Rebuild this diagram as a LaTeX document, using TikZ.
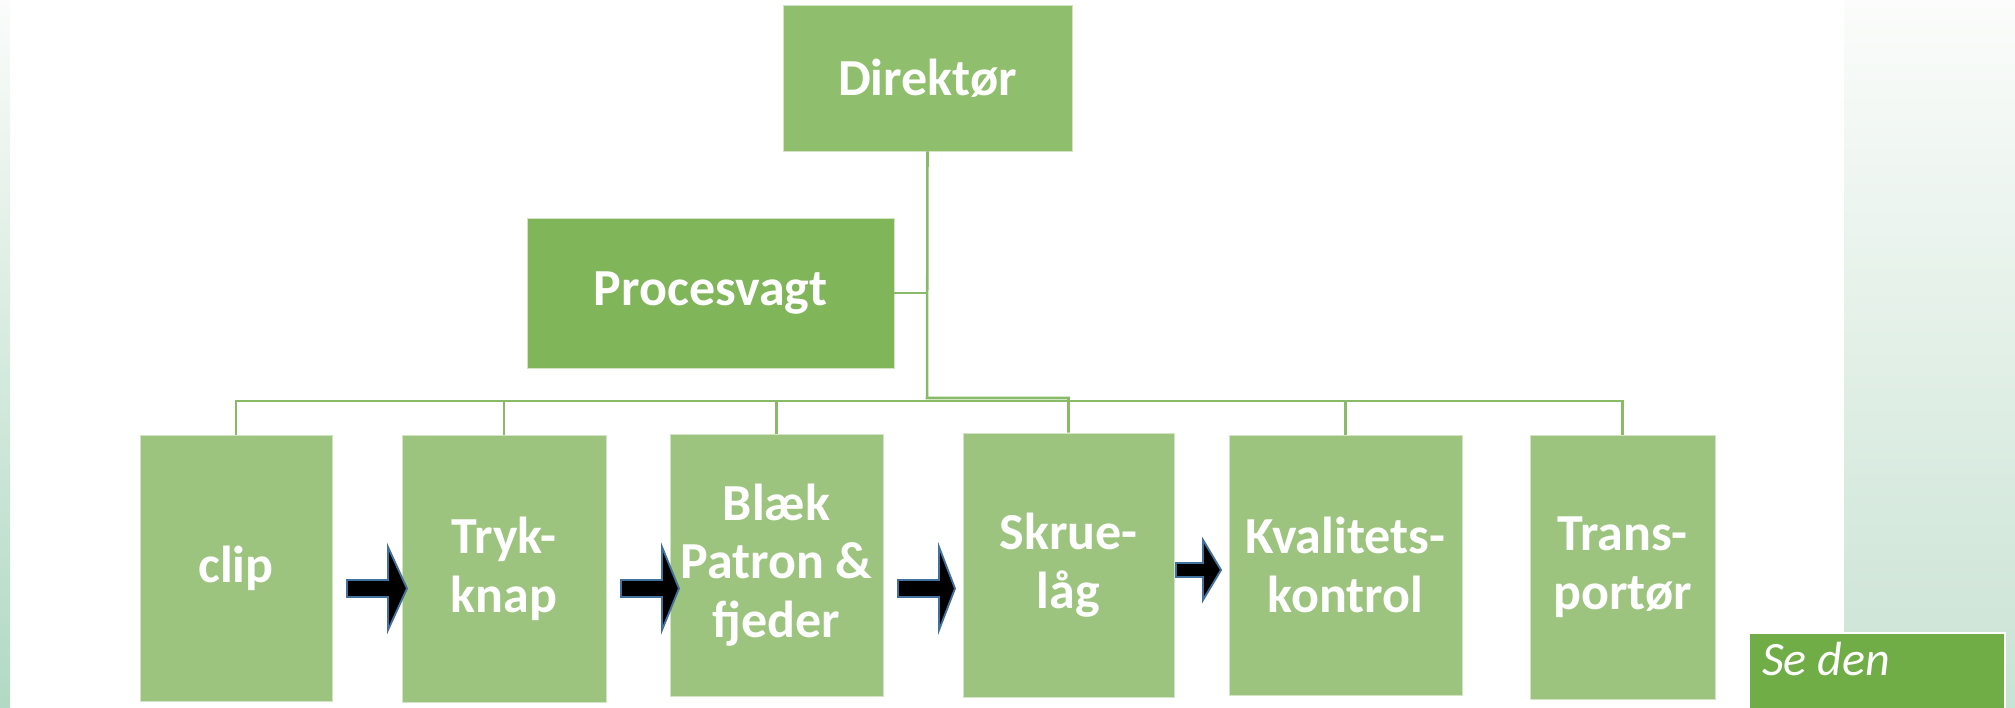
\documentclass[tikz,border=0pt]{standalone}
\usepackage{fontspec}
\setmainfont{Carlito}
\definecolor{dircol}{HTML}{8FBE6C}
\definecolor{proccol}{HTML}{80B55A}
\definecolor{childcol}{HTML}{9DC47F}
\definecolor{conncol}{HTML}{88BA67}
\definecolor{arrowblue}{HTML}{41719C}
\definecolor{notecol}{HTML}{70AD47}
\definecolor{panelbot}{HTML}{C9E3D3}
\definecolor{paneltop}{HTML}{FBFCFB}
\definecolor{stripbot}{HTML}{B2D9C3}
\begin{document}
\begin{tikzpicture}[x=0.75pt,y=-0.75pt,
  conn/.style={draw=conncol, line width=1.9pt},
  orgbox/.style={rectangle, draw=white!55!childcol, line width=0.6pt, text=white,
    font=\bfseries\fontsize{39}{44}\selectfont, align=center, inner sep=0pt},
  blockarrow/.style={fill=black, draw=arrowblue, line width=1.4pt, line join=miter},
  notebox/.style={rectangle, fill=notecol, draw=white, line width=1.5pt, inner sep=0pt},
  notetext/.style={text=white, font=\itshape\fontsize{36}{44}\selectfont, inner sep=0pt}]
\useasboundingbox (0,0) rectangle (2015,707);
\fill[white] (0,0) rectangle (2015,707);
% background gradients
\shade[top color=paneltop, bottom color=stripbot] (0,0) rectangle (10,707);
\shade[top color=paneltop, bottom color=panelbot] (1844,0) rectangle (2015,707);

% boxes
\node[orgbox, fill=dircol, minimum width=216.75pt, minimum height=109.5pt] (dir) at (927.5,78) {Direktør};
\node[orgbox, fill=proccol, minimum width=275.25pt, minimum height=112.5pt] (proc) at (710.5,293) {Procesvagt};
\node[orgbox, fill=childcol, minimum width=144pt, minimum height=199.5pt] (clip) at (236,568) {clip};
\node[orgbox, fill=childcol, minimum width=153pt, minimum height=200.25pt] (tryk) at (504,568.5) {Tryk-\\knap};
\node[orgbox, fill=childcol, minimum width=159.75pt, minimum height=196.5pt] (blaek) at (776.5,565) {Blæk\\Patron \&\\fjeder};
\node[orgbox, fill=childcol, minimum width=158.25pt, minimum height=198pt] (skrue) at (1068.5,565) {Skrue-\\låg};
\node[orgbox, fill=childcol, minimum width=174.75pt, minimum height=195pt] (kval) at (1345.5,565) {Kvalitets-\\kontrol};
\node[orgbox, fill=childcol, minimum width=138.75pt, minimum height=198pt] (trans) at (1622.5,567) {Trans-\\portør};

% connectors
\coordinate (trunkbot) at (927,398);
\coordinate (busy) at (0,401);
\draw[conn] (dir.south) -- (trunkbot) -| (skrue.north);
\draw[conn] (proc.east) -- (proc.east -| dir.south);
\draw[conn] (clip.north) -- (clip.north |- busy) -- (trans.north |- busy) -- (trans.north);
\foreach \n in {tryk,blaek,kval} \draw[conn] (\n.north) -- (\n.north |- busy);

% block arrows
\draw[blockarrow] (347,580) -- (388,580) -- (388,547) -- (407,588.5) -- (388,630) -- (388,597) -- (347,597) -- cycle;
\draw[blockarrow] (621,580) -- (662,580) -- (662,547) -- (679,588.5) -- (662,630) -- (662,597) -- (621,597) -- cycle;
\draw[blockarrow] (898,580) -- (939,580) -- (939,547) -- (955,588.5) -- (939,630) -- (939,597) -- (898,597) -- cycle;
\draw[blockarrow] (1176,563) -- (1203,563) -- (1203,540) -- (1221,570) -- (1203,600) -- (1203,577) -- (1176,577) -- cycle;

% note box
\node[notebox, anchor=north west, minimum width=192pt, minimum height=90pt] (note) at (1748,632) {};
\node[notetext, anchor=base west] (notetxt) at (1762,675) {Se den};
\end{tikzpicture}
\end{document}
